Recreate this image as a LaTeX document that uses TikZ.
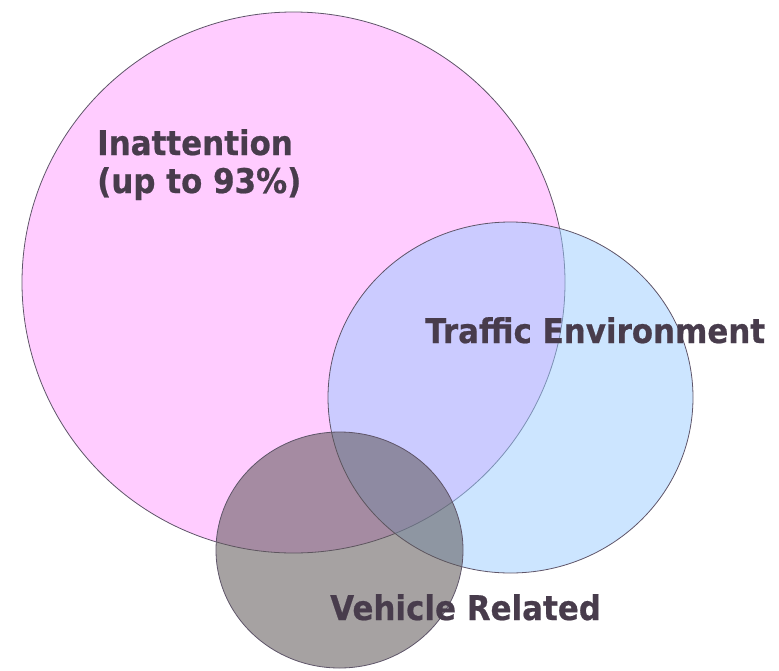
\documentclass[tikz,border=0pt]{standalone}
\usepackage{fontspec}
\setmainfont{DejaVu Sans}[FakeStretch=0.91, BoldFeatures={FakeBold=0.6}]
\definecolor{pinkset}{RGB}{255,204,255}
\definecolor{blueset}{RGB}{153,203,255}
\definecolor{grayset}{RGB}{92,86,86}
\definecolor{rim}{RGB}{95,85,105}
\definecolor{labelink}{RGB}{72,60,76}
\tikzset{
  setrim/.style={draw=rim, line width=0.8pt},
  setlabel/.style={anchor=base west, inner sep=0pt, text=labelink,
    font=\fontsize{34}{38}\selectfont\bfseries, align=left}
}
\begin{document}
\begin{tikzpicture}[x=1pt, y=-1pt]
      \useasboundingbox (0,0) rectangle (779,670);
      \coordinate (I) at (293.5,282.5);
      \coordinate (T) at (510.5,397.5);
      \coordinate (V) at (339.5,550);
      % the three sets, back to front
      \filldraw[setrim, fill=pinkset] (I) ellipse [x radius=271.5, y radius=270.5];
      \filldraw[setrim, fill=blueset, fill opacity=0.5] (T) ellipse [x radius=182.5, y radius=175.5];
      \filldraw[setrim, fill=grayset, fill opacity=0.55] (V) ellipse [x radius=123.5, y radius=118];
      % labels (base is the last line)
      \node[setlabel] (inatt) at (97,193) {Inattention\\(up to 93\%)};
      \node[setlabel] (traffic) at (425,343) {Traffic Environment};
      \node[setlabel] (vehicle) at (330,620) {Vehicle Related};
\end{tikzpicture}
\end{document}
